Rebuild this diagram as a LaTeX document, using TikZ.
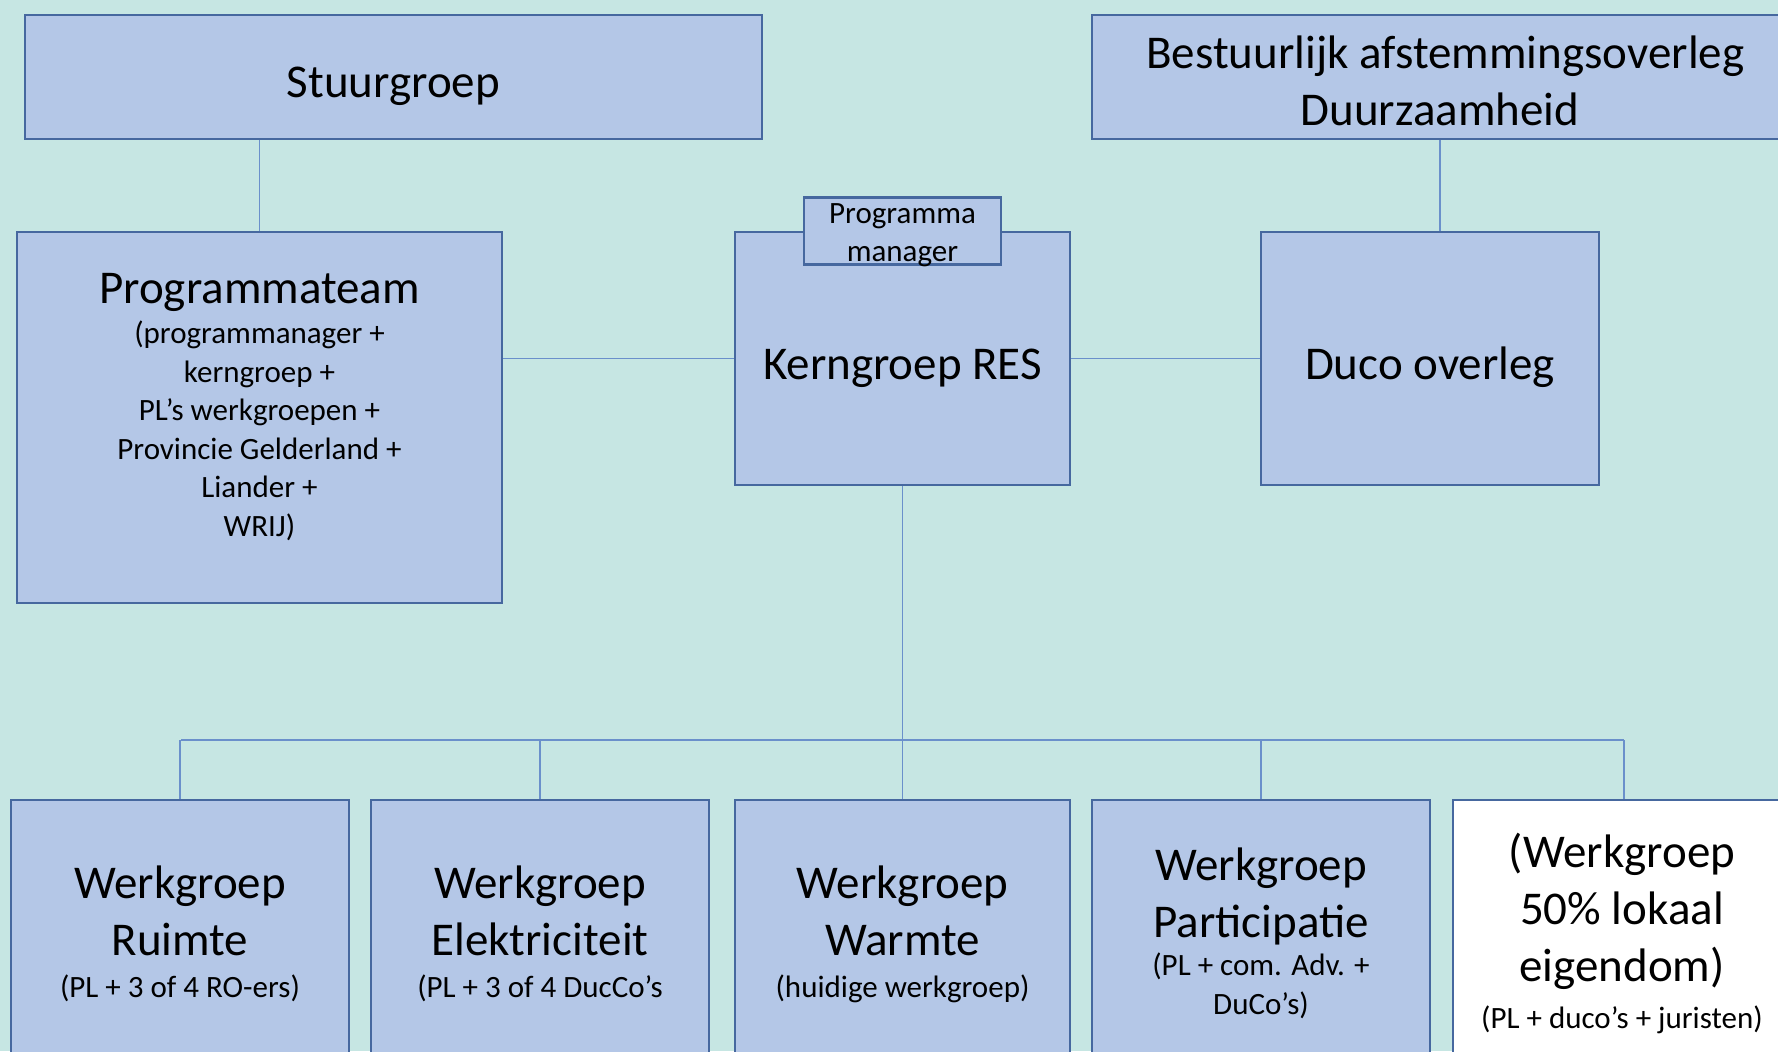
\documentclass[tikz,border=0pt]{standalone}
\usepackage{fontspec}
\setmainfont{Carlito}
\usetikzlibrary{positioning}

\definecolor{bgteal}{HTML}{C6E6E3}
\definecolor{boxblue}{HTML}{B4C7E7}
\definecolor{boxedge}{HTML}{46689F}
\definecolor{linkblue}{HTML}{6A90CB}

\newcommand{\bigtxt}{\fontsize{23.5}{28.5}\selectfont}
\newcommand{\smalltxt}{\fontsize{15.5}{19.25}\selectfont}
% struts: text sits a little low in its box, as in a slide
\newcommand{\topstrut}[1][1.272em]{\rule{0pt}{#1}}
\newcommand{\botstrut}[1][0.4em]{\rule[-#1]{0pt}{#1}}

\tikzset{
    orgbox/.style={draw=boxedge, fill=boxblue, line width=1.2pt, align=center, inner sep=0pt,
        minimum width=169pt, minimum height=126.5pt, font=\bigtxt},
    tabbox/.style={orgbox, minimum width=98.5pt, minimum height=33.5pt, font=\fontsize{15.5}{19}\selectfont},
    wgbox/.style={orgbox, minimum height=130pt},
    link/.style={draw=linkblue, line width=0.8pt},
}

\begin{document}
\begin{tikzpicture}[x=0.5pt, y=-0.5pt]
    \useasboundingbox (0,0) rectangle (1778,1051);
    \clip (0,0) rectangle (1778,1051);
    \fill[bgteal] (0,0) rectangle (1778,1051);

    % top row
    \node (stuurgroep) [orgbox, minimum width=368.5pt, minimum height=62pt] at (393.5,77) {\topstrut Stuurgroep\botstrut};
    \node (bestuur) [orgbox, minimum width=348pt, minimum height=62pt] at (1440,77)
        {\topstrut[1.14em] Bestuurlijk afstemmingsoverleg\\Duurzaamheid\botstrut[0.27em]};

    % middle row
    \node (programmateam) [orgbox, minimum width=242.5pt, minimum height=185.5pt, font=\smalltxt] at (259.5,417.5)
        {\bigtxt\topstrut Programmateam\\[0.75pt]\smalltxt (programmanager +\\\smalltxt kerngroep +\\\smalltxt PL’s werkgroepen +\\
         \smalltxt Provincie Gelderland +\\\smalltxt Liander +\\\smalltxt WRIJ)\botstrut[27.4pt]};
    \node (kerngroep) [orgbox, minimum width=167.5pt] at (902.5,358.5) {\topstrut Kerngroep RES\botstrut};
    \node (manager) [tabbox] at (kerngroep.north) {\topstrut[12pt]Programma\\\smash{manager}};
    \node (duco) [orgbox] at (1430,358.5) {\topstrut Duco overleg\botstrut};

    % werkgroepen
    \node (ruimte) [wgbox] at (180,930) {\topstrut Werkgroep\\Ruimte\\[-7.5pt]\smalltxt (PL + 3 of 4 RO-ers)\botstrut[12.2pt]};
    \node (elektriciteit) [wgbox] at (540,930) {\topstrut Werkgroep\\Elektriciteit\\[-7.5pt]\smalltxt (PL + 3 of 4 DucCo’s\botstrut[12.2pt]};
    \node (warmte) [wgbox, minimum width=167.5pt] at (902.5,930) {\topstrut Werkgroep\\Warmte\\[-7.5pt]\smalltxt (huidige werkgroep)\botstrut[12.2pt]};
    \node (participatie) [wgbox] at (1261,930)
        {\topstrut Werkgroep\\Participatie\\[-9.5pt]\smalltxt (PL + com. Adv. +\\[-9pt]\smalltxt DuCo’s)\botstrut[12.2pt]};
    \node (lokaal) [wgbox, fill=white] at (1622,930)
        {\topstrut (Werkgroep\\50\% lokaal\\eigendom)\\[-5pt]\smalltxt (PL + duco’s + juristen)\botstrut[12.2pt]};

    % connectors
    \draw[link] (programmateam.north) -- (programmateam.north |- stuurgroep.south);
    \draw[link] (bestuur.south) -- (bestuur.south |- duco.north);
    \draw[link] (programmateam.east |- kerngroep.west) -- (kerngroep.west);
    \draw[link] (kerngroep.east) -- (duco.west);
    \draw[link] (kerngroep.south) -- (warmte.north);

    \coordinate (bus west) at (181,740);
    \coordinate (bus east) at (1624,740);
    \draw[link] (bus west) -- (bus east);
    \foreach \wg in {ruimte, elektriciteit, participatie}
        \draw[link] (\wg.north) -- (\wg.north |- bus west);
    \draw[link] (bus east) -- (bus east |- lokaal.north);
\end{tikzpicture}
\end{document}
